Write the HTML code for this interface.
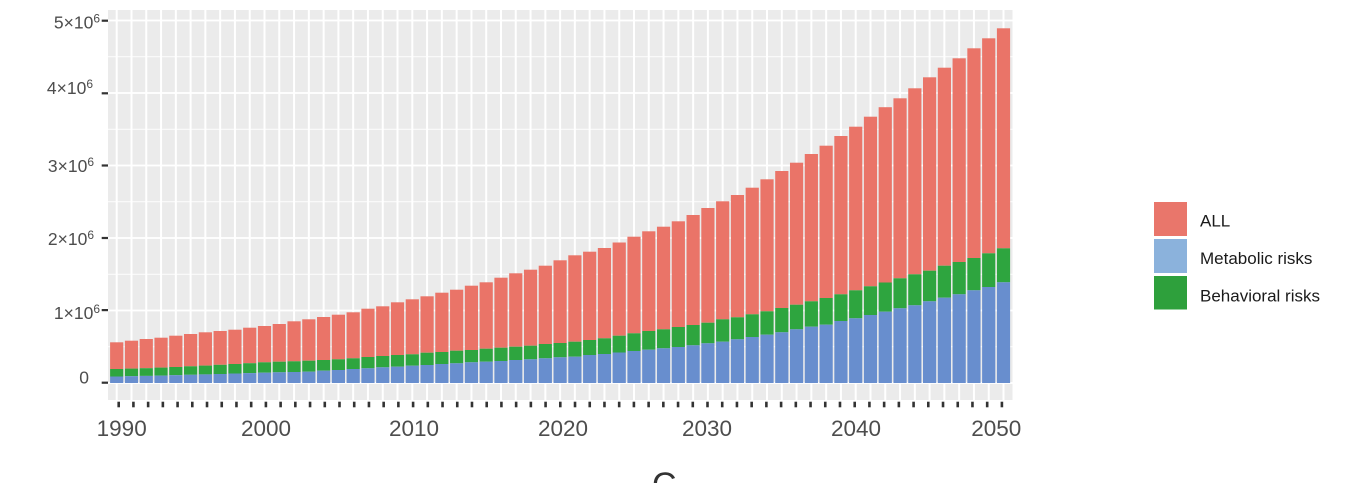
<!DOCTYPE html>
<html>
<head>
<meta charset="utf-8">
<style>
  html,body{margin:0;padding:0;background:#fff;}
  svg{display:block;}
  text{font-family:"Liberation Sans",Arial,sans-serif;}
</style>
</head>
<body>
<svg id="chart" width="1372" height="483" viewBox="0 0 1372 483" xmlns="http://www.w3.org/2000/svg">
  <rect x="0" y="0" width="1372" height="483" fill="#ffffff"/>
  <rect x="108" y="10" width="904.5" height="390" fill="#EBEBEB"/>
  <g id="grid"></g>
  <g id="bars"></g>
  <g id="ticks"></g>

  <!-- y tick marks -->
  <g fill="#333333">
    <rect x="101.7" y="19.6" width="6.3" height="2.2"/>
    <rect x="101.7" y="92.2" width="6.3" height="2.2"/>
    <rect x="101.7" y="164.4" width="6.3" height="2.2"/>
    <rect x="101.7" y="236.9" width="6.3" height="2.2"/>
    <rect x="101.7" y="309.0" width="6.3" height="2.2"/>
    <rect x="101.7" y="381.6" width="6.3" height="2.2"/>
  </g>

  <!-- y labels -->
  <g fill="#4D4D4D" font-size="17.5" text-anchor="end">
    <text x="100" y="28.3">5×10<tspan font-size="12" dy="-6">6</tspan></text>
    <text x="93" y="94">4×10<tspan font-size="12" dy="-6">6</tspan></text>
    <text x="94" y="172">3×10<tspan font-size="12" dy="-6">6</tspan></text>
    <text x="94" y="245">2×10<tspan font-size="12" dy="-6">6</tspan></text>
    <text x="100" y="319">1×10<tspan font-size="12" dy="-6">6</tspan></text>
    <text x="89" y="383.3">0</text>
  </g>

  <!-- x labels -->
  <g fill="#4D4D4D" font-size="22.5" text-anchor="middle">
    <text x="121.7" y="436">1990</text>
    <text x="266" y="436">2000</text>
    <text x="414" y="436">2010</text>
    <text x="563" y="436">2020</text>
    <text x="707" y="436">2030</text>
    <text x="856" y="436">2040</text>
    <text x="996.3" y="436">2050</text>
  </g>

  <!-- legend -->
  <rect x="1154" y="202" width="33" height="34" fill="#E9766B"/>
  <rect x="1154" y="239" width="33" height="34" fill="#8BB2DC"/>
  <rect x="1154" y="276" width="33" height="33.5" fill="#2EA03C"/>
  <g fill="#1A1A1A" font-size="17">
    <text x="1200" y="226.7">ALL</text>
    <text x="1200" y="264">Metabolic risks</text>
    <text x="1200" y="301.7">Behavioral risks</text>
  </g>

  <!-- panel label (cut off) -->
  <text x="652" y="496" font-size="34" fill="#333333">C</text>
</svg>
<script>
(function(){
  var T=[342.3,340.7,339,337.7,335.7,334,332.3,331,329.7,327.7,
         326,324,321.3,319.3,317,314.7,312.3,308.7,306.3,302.3,
         299.3,296.3,292.7,289.7,285.7,282.3,277.7,273.3,269.7,265.7,
         260.3,255.3,251.7,248,242.5,236.7,231.3,226.7,221.3,215,
         208,201.3,195,187.7,179.3,171,162.7,154,145.7,136,
         126.7,116.7,107.2,98.3,88.3,77.3,67.7,58.3,48.3,38.3,
         28.3];
  var G=[369,368.6,368.2,367.6,367,366.3,365.6,364.8,364,363.2,
         362.3,361.7,361.3,360.7,360,359.3,358.3,357,356,355,
         354.3,352.7,352,350.7,350,348.7,347.7,346.7,345.7,344,
         343,341.7,340,338.3,
         335.7,333.3,331,329.3,327,325,322.7,319.3,317.3,314.3,311.3,308,304.7,301.3,298,294.3,290.3,286.3,282.5,278.3,
         274.3,270.7,265.7,262,258,253.3,248.3];
  var B=[376.5,376.2,375.9,375.6,375.2,374.8,374.4,374,373.5,373.1,
         372.7,372.3,372,371.7,370.7,370,369,368.3,367.3,366.7,
         365.7,365,364,363.3,362.3,361.7,361,360,359.3,358.3,
         357.3,356.7,355,354,
         352.5,351,349.7,348.3,347,345.3,343.3,341.7,339.3,337,334.7,332.3,329.3,326.7,324.7,321,318.3,315,311.7,308.3,
         305.3,301.3,297.7,294.3,290.3,287,282.3];
  var base=383, n=61, x0=116.7, dx=14.78, bw=13.2;
  var g='';
  for(var i=0;i<n;i++){
    var c=x0+dx*i;
    g+='<rect x="'+(c-1).toFixed(2)+'" y="10" width="2" height="390" fill="#fff"/>';
  }
  var maj=[383,310.5,238,165.5,93,20.5], mn=[346.75,274.25,201.75,129.25,56.75];
  maj.forEach(function(y){g+='<rect x="108" y="'+(y-0.9)+'" width="904.5" height="1.8" fill="#fff"/>';});
  mn.forEach(function(y){g+='<rect x="108" y="'+(y-0.45)+'" width="904.5" height="0.9" fill="#fff"/>';});
  document.getElementById('grid').innerHTML=g;

  var b='';
  for(var i=0;i<n;i++){
    var c=x0+dx*i, l=(c-bw/2).toFixed(2);
    b+='<rect x="'+l+'" y="'+T[i]+'" width="'+bw+'" height="'+(G[i]-T[i]).toFixed(2)+'" fill="#EA7468"/>';
    b+='<rect x="'+l+'" y="'+G[i]+'" width="'+bw+'" height="'+(B[i]-G[i]).toFixed(2)+'" fill="#2EA53F"/>';
    b+='<rect x="'+l+'" y="'+B[i]+'" width="'+bw+'" height="'+(base-B[i]).toFixed(2)+'" fill="#688ECE"/>';
  }
  document.getElementById('bars').innerHTML=b;

  var t='';
  for(var i=0;i<n;i++){
    var c=118.7+14.72*i;
    t+='<rect x="'+(c-1.3).toFixed(2)+'" y="401.7" width="2.6" height="5.6" fill="#333"/>';
  }
  document.getElementById('ticks').innerHTML=t;
})();
</script>
</body>
</html>
